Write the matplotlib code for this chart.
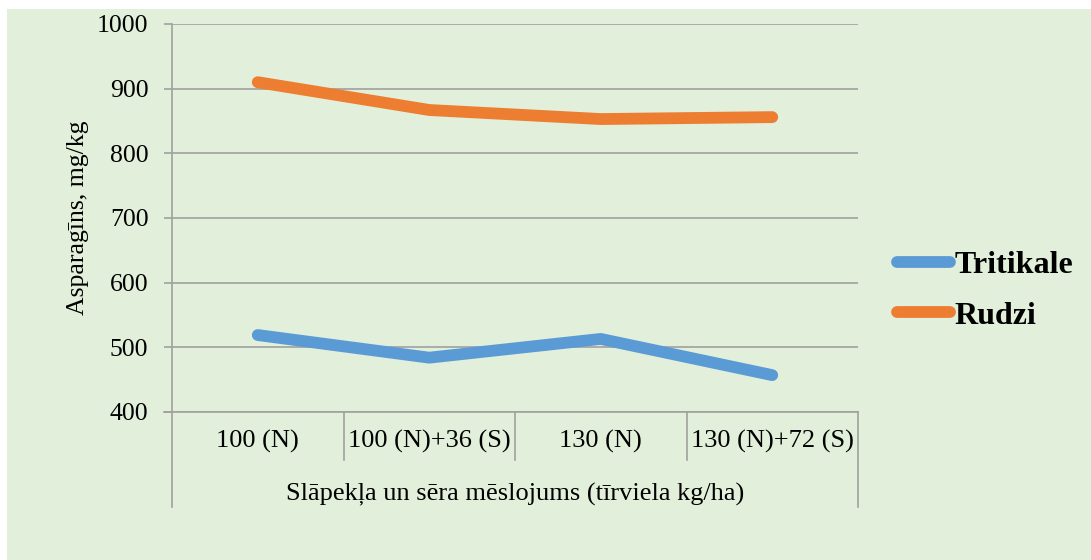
import matplotlib
matplotlib.use('Agg')
import matplotlib.pyplot as plt
import matplotlib.transforms as mtransforms
from matplotlib.patches import Rectangle
import numpy as np

categories = ['100 (N)', '100 (N)+36 (S)', '130 (N)', '130 (N)+72 (S)']
tritikale = [519, 484, 513, 457]
rudzi = [910, 867, 853, 856]
y_ticks = [400, 500, 600, 700, 800, 900, 1000]

bg = '#E2EFDA'
grid_c = '#A0A0A0'
plt.rcParams['font.family'] = ['Liberation Serif', 'DejaVu Serif']

fig = plt.figure(figsize=(10.91, 5.6), dpi=100)
fig.patch.set_facecolor('white')
# green chart area (leaves a thin white strip at top/left)
fig.add_artist(Rectangle((7 / 1091, 0), 1, 1 - 9 / 560, transform=fig.transFigure,
                         facecolor=bg, edgecolor='none', zorder=-10))

ax = fig.add_axes([172 / 1091, 1 - 412 / 560, (858 - 172) / 1091, (412 - 24) / 560])
ax.set_facecolor('none')

x = np.arange(len(categories))
ax.plot(x, tritikale, color='#5B9BD5', lw=8.5, solid_capstyle='round', solid_joinstyle='round', label='Tritikale', zorder=3)
ax.plot(x, rudzi, color='#ED7D31', lw=8.5, solid_capstyle='round', solid_joinstyle='round', label='Rudzi', zorder=3)

ax.set_xlim(-0.5, len(categories) - 0.5)
ax.set_ylim(400, 1000)
ax.set_yticks(y_ticks)
ax.set_yticklabels([str(v) for v in y_ticks], fontsize=18.5)
ax.yaxis.grid(True, color=grid_c, lw=1.2)
ax.set_axisbelow(True)
ax.tick_params(axis='y', length=6, color=grid_c, width=1.2, pad=11)

ax.set_xticks(x)
ax.set_xticklabels(categories, fontsize=19)
ax.tick_params(axis='x', length=0, pad=13)

for s in ['top', 'right']:
    ax.spines[s].set_visible(False)
ax.spines['left'].set_color(grid_c)
ax.spines['bottom'].set_color(grid_c)
ax.spines['left'].set_linewidth(1.2)
ax.spines['bottom'].set_linewidth(1.2)

# category box lines below the x axis
trans = mtransforms.blended_transform_factory(ax.transData, ax.transAxes)
h = ax.get_position().height * 560
for xs in [0.5, 1.5, 2.5]:
    ax.plot([xs, xs], [0, -48 / h], color=grid_c, lw=1.2, transform=trans, clip_on=False)
for xs in [-0.5, len(categories) - 0.5]:
    ax.plot([xs, xs], [0, -95 / h], color=grid_c, lw=1.2, transform=trans, clip_on=False)
ax.plot([-0.5 - 8 / 171.5, -0.5], [0, 0], color=grid_c, lw=1.2, transform=trans, clip_on=False)

ax.set_xlabel('Slāpekļa un sēra mēslojums (tīrviela kg/ha)', fontsize=19, labelpad=21)
ax.set_ylabel('Asparagīns, mg/kg', fontsize=18.5, labelpad=6)

leg = fig.legend(loc='center left', bbox_to_anchor=(868 / 1091, 1 - 290.5 / 560), frameon=False,
                 prop={'weight': 'bold', 'size': 23}, handlelength=1.68, handletextpad=0.13,
                 labelspacing=0.67)

fig.savefig('out.png', dpi=100, facecolor=fig.get_facecolor())
